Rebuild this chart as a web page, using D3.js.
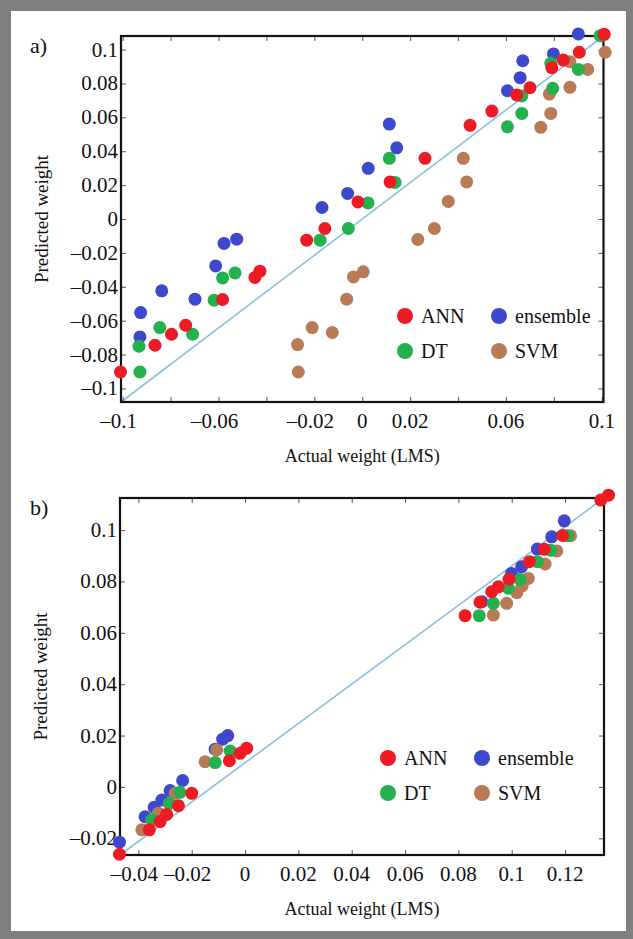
<!DOCTYPE html>
<html><head><meta charset="utf-8">
<script src="https://cdn.jsdelivr.net/npm/d3@7"></script>
<style>
body{margin:0;background:#7f7f7f}
svg{display:block}
text{font-family:"Liberation Serif","DejaVu Serif",serif;fill:#111}
</style>
</head><body>
<script>
// ---------- data ----------
const seriesNames = ["ANN", "ensemble", "DT", "SVM"];
const seriesColors = {ANN: "#ed1c24", ensemble: "#3f48cc", DT: "#22b14c", SVM: "#b97a57"};
const drawOrder = ["ensemble", "SVM", "DT", "ANN"];

// Panel a
const aANN = [[-0.1009,-0.0903],[-0.0865,-0.0745],[-0.0796,-0.0680],[-0.0737,-0.0627],[-0.0583,-0.0475],
  [-0.0448,-0.0345],[-0.0427,-0.0308],[-0.0232,-0.0125],[-0.0156,-0.0056],[-0.0018,0.0101],[0.0116,0.0219],
  [0.0262,0.0358],[0.0450,0.0553],[0.0541,0.0637],[0.0645,0.0732],[0.0700,0.0775],[0.0791,0.0893],
  [0.0839,0.0938],[0.0906,0.0984],[0.1010,0.1090]];
const aDT = [[-0.0928,-0.0903],[-0.0932,-0.0751],[-0.0845,-0.0641],[-0.0708,-0.0680],[-0.0618,-0.0479],
  [-0.0583,-0.0348],[-0.0531,-0.0318],[-0.0176,-0.0125],[-0.0058,-0.0056],[0.0024,0.0095],[0.0137,0.0216],
  [0.0113,0.0358],[0.0606,0.0544],[0.0666,0.0623],[0.0666,0.0726],[0.0795,0.0771],[0.0787,0.0919],
  [0.0902,0.0883],[0.0993,0.1082]];
const aEnsemble = [[-0.0928,-0.0696],[-0.0925,-0.0552],[-0.0837,-0.0424],[-0.0698,-0.0473],[-0.0612,-0.0277],
  [-0.0577,-0.0144],[-0.0524,-0.0119],[-0.0168,0.0068],[-0.0061,0.0151],[0.0025,0.0299],[0.0113,0.0560],
  [0.0144,0.0420],[0.0606,0.0757],[0.0659,0.0834],[0.0670,0.0934],[0.0798,0.0974],[0.0902,0.1092]];
const aSVM = [[-0.0267,-0.0903],[-0.0270,-0.0741],[-0.0209,-0.0641],[-0.0125,-0.0670],[-0.0065,-0.0473],
  [-0.0037,-0.0342],[0.0004,-0.0312],[0.0232,-0.0121],[0.0301,-0.0056],[0.0359,0.0104],[0.0436,0.0219],
  [0.0422,0.0358],[0.0745,0.0541],[0.0787,0.0623],[0.0781,0.0737],[0.0867,0.0777],[0.0867,0.0928],
  [0.0941,0.0883],[0.1000,0.1085],[0.1014,0.0984]];
const aXDomain = [-0.1007, 0.1007];
const aYDomain = [-0.108, 0.108];
const aXTicks = [-0.1,-0.08,-0.06,-0.04,-0.02,0,0.02,0.04,0.06,0.08,0.1];
const aXTickLabels = [-0.1,-0.06,-0.02,0,0.02,0.06,0.1];
const aYTicks = [-0.1,-0.08,-0.06,-0.04,-0.02,0,0.02,0.04,0.06,0.08,0.1];

// Panel b
const bANN = [[-0.0471,-0.0262],[-0.0359,-0.0167],[-0.0319,-0.0135],[-0.0294,-0.0107],[-0.0250,-0.0073],
  [-0.0200,-0.0025],[-0.0059,0.0102],[-0.0019,0.0131],[0.0006,0.0151],[0.0825,0.0667],[0.0881,0.0719],
  [0.0925,0.0760],[0.0950,0.0779],[0.0990,0.0809],[0.1066,0.0877],[0.1122,0.0925],[0.1191,0.0979],
  [0.1334,0.1117],[0.1363,0.1136]];
const bDT = [[-0.0350,-0.0128],[-0.0284,-0.0064],[-0.0244,-0.0021],[-0.0112,0.0095],[-0.0056,0.0140],
  [0.0878,0.0667],[0.0931,0.0715],[0.0987,0.0774],[0.1031,0.0808],[0.1096,0.0877],[0.1146,0.0922],
  [0.1209,0.0978]];
const bEnsemble = [[-0.0471,-0.0215],[-0.0375,-0.0116],[-0.0341,-0.0079],[-0.0312,-0.0051],[-0.0281,-0.0014],
  [-0.0234,0.0025],[-0.0112,0.0147],[-0.0084,0.0186],[-0.0065,0.0200],[0.0888,0.0721],[0.0999,0.0831],
  [0.1037,0.0857],[0.1096,0.0926],[0.1150,0.0974],[0.1197,0.1036]];
const bSVM = [[-0.0387,-0.0167],[-0.0325,-0.0102],[-0.0262,-0.0025],[-0.0150,0.0098],[-0.0106,0.0144],
  [0.0931,0.0669],[0.0981,0.0715],[0.1019,0.0756],[0.1039,0.0783],[0.1062,0.0812],[0.1125,0.0868],
  [0.1169,0.0919],[0.1221,0.0978]];
const bXDomain = [-0.0469, 0.1346];
const bYDomain = [-0.0265, 0.1125];
const bXTicks = [-0.04,-0.02,0,0.02,0.04,0.06,0.08,0.1,0.12];
const bXTickLabels = [-0.04,-0.02,0,0.02,0.04,0.06,0.08,0.1,0.12];
const bYTicks = [-0.02,0,0.02,0.04,0.06,0.08,0.1];

const xTitle = "Actual weight (LMS)";
const yTitle = "Predicted weight";

// ---------- drawing ----------
const W = 633, H = 939;
const FONT = "'Liberation Serif','DejaVu Serif',serif";
const svg = d3.select("body").append("svg").attr("width", W).attr("height", H)
  .style("font-family", FONT);
svg.append("rect").attr("x", 0).attr("y", 0).attr("width", W).attr("height", H).attr("fill", "#7f7f7f");
svg.append("rect").attr("x", 11).attr("y", 11).attr("width", 615).attr("height", 920).attr("fill", "#fff");

const fmt = v => {
  if (Math.abs(v) < 1e-9) return "0";
  let s = String(+Math.abs(v).toFixed(3));
  return (v < 0 ? "\u2013" : "") + s;
};

function panel(cfg) {
  const {left, top, width, height, data, xDomain, yDomain, xTicks, xTickLabels, yTicks, tag, legend} = cfg;
  const x = d3.scaleLinear().domain(xDomain).range([left, left + width]);
  const y = d3.scaleLinear().domain(yDomain).range([top + height, top]);
  const g = svg.append("g");

  // reference diagonal
  g.append("line")
    .attr("x1", x(xDomain[0])).attr("y1", y(yDomain[0]))
    .attr("x2", x(xDomain[1])).attr("y2", y(yDomain[1]))
    .attr("stroke", "#8cc0e2").attr("stroke-width", 1.6);

  // axes (frame with inward ticks)
  const tl = 5;
  const bottom = g.append("g").attr("transform", `translate(0,${top + height})`)
    .call(d3.axisBottom(x).tickValues(xTicks).tickSize(-tl).tickFormat(""));
  const topA = g.append("g").attr("transform", `translate(0,${top})`)
    .call(d3.axisTop(x).tickValues(xTicks).tickSize(-tl).tickFormat(""));
  const leftA = g.append("g").attr("transform", `translate(${left},0)`)
    .call(d3.axisLeft(y).tickValues(yTicks).tickSize(-tl).tickFormat(""));
  const rightA = g.append("g").attr("transform", `translate(${left + width},0)`)
    .call(d3.axisRight(y).tickValues(yTicks).tickSize(-tl).tickFormat(""));
  [bottom, topA, leftA, rightA].forEach(a => {
    a.select(".domain").remove();
    a.selectAll(".tick line").attr("stroke", "#555").attr("stroke-width", 1);
  });
  g.append("rect").attr("x", left).attr("y", top).attr("width", width).attr("height", height)
    .attr("fill", "none").attr("stroke", "#111").attr("stroke-width", 2.2);

  // tick labels
  g.append("g").selectAll("text").data(xTickLabels).join("text")
    .attr("x", d => x(d) - (d < 0 ? 4 : 0)).attr("y", top + height + 26)
    .attr("text-anchor", "middle").attr("font-size", 21).text(fmt);
  g.append("g").selectAll("text").data(yTicks).join("text")
    .attr("x", left - 3).attr("y", d => y(d) + 7)
    .attr("text-anchor", "end").attr("font-size", 21).text(fmt);

  // titles
  g.append("text").attr("x", left + width / 2).attr("y", top + height + 60)
    .attr("text-anchor", "middle").attr("font-size", 18).text(xTitle);
  g.append("text").attr("transform", `translate(${left - 73},${top + height / 2}) rotate(-90)`)
    .attr("text-anchor", "middle").attr("font-size", 19).text(yTitle);
  g.append("text").attr("x", 30).attr("y", top + 17).attr("font-size", 22).text(tag);

  // points
  drawOrder.forEach(name => {
    g.append("g").selectAll("circle").data(data[name]).join("circle")
      .attr("cx", d => x(d[0])).attr("cy", d => y(d[1])).attr("r", 6.5)
      .attr("fill", seriesColors[name]);
  });

  // legend
  const lg = g.append("g").attr("transform", `translate(${legend[0]},${legend[1]})`);
  const items = [["ANN", 0, 0], ["ensemble", 94, 0], ["DT", 0, 35], ["SVM", 94, 35]];
  items.forEach(([name, dx, dy]) => {
    lg.append("circle").attr("cx", dx).attr("cy", dy).attr("r", 8).attr("fill", seriesColors[name]);
    lg.append("text").attr("x", dx + 16).attr("y", dy + 7).attr("font-size", 20).text(name);
  });
}

panel({left: 121, top: 36, width: 482.5, height: 366,
  data: {ANN: aANN, DT: aDT, ensemble: aEnsemble, SVM: aSVM},
  xDomain: aXDomain, yDomain: aYDomain, xTicks: aXTicks, xTickLabels: aXTickLabels, yTicks: aYTicks,
  tag: "a)", legend: [405, 316]});

panel({left: 120, top: 498, width: 484, height: 357,
  data: {ANN: bANN, DT: bDT, ensemble: bEnsemble, SVM: bSVM},
  xDomain: bXDomain, yDomain: bYDomain, xTicks: bXTicks, xTickLabels: bXTickLabels, yTicks: bYTicks,
  tag: "b)", legend: [388, 758]});
</script>
</body></html>
